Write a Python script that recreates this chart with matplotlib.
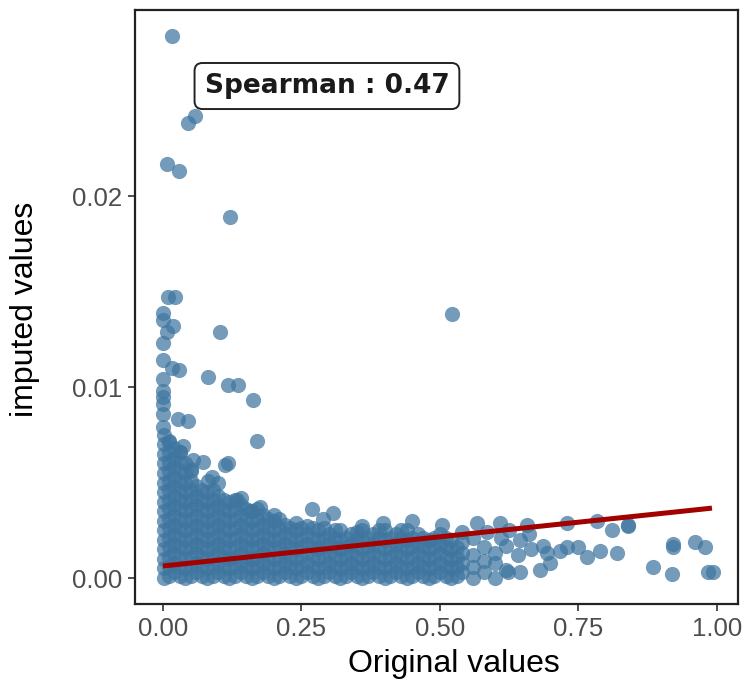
"""原始值 vs 插补值 散点图 + 线性拟合线 + Spearman 标注。"""
import matplotlib
matplotlib.use("Agg")
import matplotlib.pyplot as plt

# --- 数据(从图上读出的点)---
# x ≤ 0.1 紧贴 0 的实心柱
band_left = [
    (0.002, 0.0000), (0.002, 0.0005), (0.002, 0.0010), (0.002, 0.0015), (0.002, 0.0020),
    (0.002, 0.0025), (0.002, 0.0030), (0.002, 0.0035), (0.002, 0.0040), (0.002, 0.0045),
    (0.002, 0.0050), (0.002, 0.0055), (0.002, 0.0060), (0.002, 0.0065), (0.002, 0.0070),
    (0.002, 0.0075),
    (0.020, 0.0003), (0.020, 0.0008), (0.020, 0.0013), (0.020, 0.0018), (0.020, 0.0023),
    (0.020, 0.0028), (0.020, 0.0033), (0.020, 0.0038), (0.020, 0.0043), (0.020, 0.0048),
    (0.020, 0.0053), (0.020, 0.0058), (0.020, 0.0063), (0.020, 0.0068),
    (0.040, 0.0000), (0.040, 0.0005), (0.040, 0.0010), (0.040, 0.0015), (0.040, 0.0020),
    (0.040, 0.0025), (0.040, 0.0030), (0.040, 0.0035), (0.040, 0.0040), (0.040, 0.0045),
    (0.040, 0.0050), (0.040, 0.0055), (0.040, 0.0060),
    (0.060, 0.0003), (0.060, 0.0008), (0.060, 0.0013), (0.060, 0.0018), (0.060, 0.0023),
    (0.060, 0.0028), (0.060, 0.0033), (0.060, 0.0038), (0.060, 0.0043), (0.060, 0.0048),
    (0.080, 0.0000), (0.080, 0.0005), (0.080, 0.0010), (0.080, 0.0015), (0.080, 0.0020),
    (0.080, 0.0025), (0.080, 0.0030), (0.080, 0.0035), (0.080, 0.0040), (0.080, 0.0045),
    (0.100, 0.0003), (0.100, 0.0008), (0.100, 0.0013), (0.100, 0.0018), (0.100, 0.0023),
    (0.100, 0.0028), (0.100, 0.0033), (0.100, 0.0038), (0.100, 0.0043),
]

# 0.12 – 0.30
band_mid = [
    (0.12, 0.0000), (0.12, 0.0005), (0.12, 0.0010), (0.12, 0.0015), (0.12, 0.0020),
    (0.12, 0.0025), (0.12, 0.0030), (0.12, 0.0035), (0.12, 0.0040),
    (0.14, 0.0003), (0.14, 0.0008), (0.14, 0.0013), (0.14, 0.0018), (0.14, 0.0023),
    (0.14, 0.0028), (0.14, 0.0033), (0.14, 0.0038),
    (0.16, 0.0000), (0.16, 0.0005), (0.16, 0.0010), (0.16, 0.0015), (0.16, 0.0020),
    (0.16, 0.0025), (0.16, 0.0030), (0.16, 0.0035),
    (0.18, 0.0003), (0.18, 0.0008), (0.18, 0.0013), (0.18, 0.0018), (0.18, 0.0023),
    (0.18, 0.0028), (0.18, 0.0033),
    (0.20, 0.0000), (0.20, 0.0005), (0.20, 0.0010), (0.20, 0.0015), (0.20, 0.0020),
    (0.20, 0.0025), (0.20, 0.0030),
    (0.22, 0.0003), (0.22, 0.0008), (0.22, 0.0013), (0.22, 0.0018), (0.22, 0.0023),
    (0.22, 0.0028),
    (0.24, 0.0000), (0.24, 0.0005), (0.24, 0.0010), (0.24, 0.0015), (0.24, 0.0020),
    (0.24, 0.0025),
    (0.26, 0.0003), (0.26, 0.0008), (0.26, 0.0013), (0.26, 0.0018), (0.26, 0.0023),
    (0.26, 0.0027),
    (0.28, 0.0000), (0.28, 0.0005), (0.28, 0.0010), (0.28, 0.0015), (0.28, 0.0020),
    (0.28, 0.0025),
    (0.30, 0.0003), (0.30, 0.0008), (0.30, 0.0013), (0.30, 0.0018), (0.30, 0.0023),
]

# 0.32 – 0.50
band_right = [
    (0.32, 0.0000), (0.32, 0.0005), (0.32, 0.0010), (0.32, 0.0015), (0.32, 0.0020), (0.32, 0.0025),
    (0.34, 0.0003), (0.34, 0.0008), (0.34, 0.0013), (0.34, 0.0018), (0.34, 0.0023),
    (0.36, 0.0000), (0.36, 0.0005), (0.36, 0.0010), (0.36, 0.0015), (0.36, 0.0020), (0.36, 0.0025),
    (0.38, 0.0003), (0.38, 0.0008), (0.38, 0.0013), (0.38, 0.0018), (0.38, 0.0023),
    (0.40, 0.0000), (0.40, 0.0005), (0.40, 0.0010), (0.40, 0.0015), (0.40, 0.0020), (0.40, 0.0025),
    (0.42, 0.0003), (0.42, 0.0008), (0.42, 0.0013), (0.42, 0.0018), (0.42, 0.0023),
    (0.44, 0.0000), (0.44, 0.0005), (0.44, 0.0010), (0.44, 0.0015), (0.44, 0.0020), (0.44, 0.0025),
    (0.46, 0.0003), (0.46, 0.0008), (0.46, 0.0013), (0.46, 0.0018), (0.46, 0.0023),
    (0.48, 0.0000), (0.48, 0.0005), (0.48, 0.0010), (0.48, 0.0015), (0.48, 0.0020),
    (0.50, 0.0003), (0.50, 0.0008), (0.50, 0.0013), (0.50, 0.0018), (0.50, 0.0023),
]

# 主体里夹在各列之间的点(让高密度区连成一片)
band_between = [
    (0.01, 0.0001), (0.01, 0.0006), (0.01, 0.0011), (0.01, 0.0016), (0.01, 0.0021),
    (0.01, 0.0026), (0.01, 0.0031), (0.01, 0.0036), (0.01, 0.0041), (0.01, 0.0046),
    (0.01, 0.0051), (0.01, 0.0056), (0.01, 0.0061), (0.01, 0.0066), (0.01, 0.0071),
    (0.03, 0.0001), (0.03, 0.0006), (0.03, 0.0011), (0.03, 0.0016), (0.03, 0.0021),
    (0.03, 0.0026), (0.03, 0.0031), (0.03, 0.0036), (0.03, 0.0041), (0.03, 0.0046),
    (0.03, 0.0051), (0.03, 0.0056), (0.03, 0.0061), (0.03, 0.0066),
    (0.05, 0.0001), (0.05, 0.0006), (0.05, 0.0011), (0.05, 0.0016), (0.05, 0.0021),
    (0.05, 0.0026), (0.05, 0.0031), (0.05, 0.0036), (0.05, 0.0041), (0.05, 0.0046),
    (0.05, 0.0051), (0.05, 0.0056),
    (0.07, 0.0001), (0.07, 0.0006), (0.07, 0.0011), (0.07, 0.0016), (0.07, 0.0021),
    (0.07, 0.0026), (0.07, 0.0031), (0.07, 0.0036), (0.07, 0.0041), (0.07, 0.0046),
    (0.09, 0.0001), (0.09, 0.0006), (0.09, 0.0011), (0.09, 0.0016), (0.09, 0.0021),
    (0.09, 0.0026), (0.09, 0.0031), (0.09, 0.0036), (0.09, 0.0041), (0.09, 0.0046),
    (0.11, 0.0001), (0.11, 0.0006), (0.11, 0.0011), (0.11, 0.0016), (0.11, 0.0021),
    (0.11, 0.0026), (0.11, 0.0031), (0.11, 0.0036), (0.11, 0.0041),
    (0.13, 0.0001), (0.13, 0.0006), (0.13, 0.0011), (0.13, 0.0016), (0.13, 0.0021),
    (0.13, 0.0026), (0.13, 0.0031), (0.13, 0.0036), (0.13, 0.0041),
    (0.15, 0.0001), (0.15, 0.0006), (0.15, 0.0011), (0.15, 0.0016), (0.15, 0.0021),
    (0.15, 0.0026), (0.15, 0.0031), (0.15, 0.0036),
    (0.17, 0.0001), (0.17, 0.0006), (0.17, 0.0011), (0.17, 0.0016), (0.17, 0.0021),
    (0.17, 0.0026), (0.17, 0.0031), (0.17, 0.0036),
    (0.19, 0.0001), (0.19, 0.0006), (0.19, 0.0011), (0.19, 0.0016), (0.19, 0.0021),
    (0.19, 0.0026), (0.19, 0.0031),
    (0.21, 0.0001), (0.21, 0.0006), (0.21, 0.0011), (0.21, 0.0016), (0.21, 0.0021),
    (0.21, 0.0026), (0.21, 0.0031),
    (0.23, 0.0001), (0.23, 0.0006), (0.23, 0.0011), (0.23, 0.0016), (0.23, 0.0021), (0.23, 0.0026),
    (0.25, 0.0001), (0.25, 0.0006), (0.25, 0.0011), (0.25, 0.0016), (0.25, 0.0021), (0.25, 0.0026),
    (0.27, 0.0001), (0.27, 0.0006), (0.27, 0.0011), (0.27, 0.0016), (0.27, 0.0021), (0.27, 0.0026),
    (0.29, 0.0001), (0.29, 0.0006), (0.29, 0.0011), (0.29, 0.0016), (0.29, 0.0021), (0.29, 0.0026),
    (0.31, 0.0001), (0.31, 0.0006), (0.31, 0.0011), (0.31, 0.0016), (0.31, 0.0021), (0.31, 0.0025),
    (0.33, 0.0001), (0.33, 0.0006), (0.33, 0.0011), (0.33, 0.0016), (0.33, 0.0021),
    (0.35, 0.0001), (0.35, 0.0006), (0.35, 0.0011), (0.35, 0.0016), (0.35, 0.0021), (0.35, 0.0024),
    (0.37, 0.0001), (0.37, 0.0006), (0.37, 0.0011), (0.37, 0.0016), (0.37, 0.0021),
    (0.39, 0.0001), (0.39, 0.0006), (0.39, 0.0011), (0.39, 0.0016), (0.39, 0.0021), (0.39, 0.0025),
    (0.41, 0.0001), (0.41, 0.0006), (0.41, 0.0011), (0.41, 0.0016), (0.41, 0.0021),
    (0.43, 0.0001), (0.43, 0.0006), (0.43, 0.0011), (0.43, 0.0016), (0.43, 0.0021), (0.43, 0.0025),
    (0.45, 0.0001), (0.45, 0.0006), (0.45, 0.0011), (0.45, 0.0016), (0.45, 0.0021),
    (0.47, 0.0001), (0.47, 0.0006), (0.47, 0.0011), (0.47, 0.0016), (0.47, 0.0021),
    (0.49, 0.0001), (0.49, 0.0006), (0.49, 0.0011), (0.49, 0.0016), (0.49, 0.0021),
    (0.51, 0.0001), (0.51, 0.0006), (0.51, 0.0011), (0.51, 0.0016), (0.51, 0.0021),
    (0.53, 0.0001), (0.53, 0.0006), (0.53, 0.0011), (0.53, 0.0016),
]

# 包络边缘的凸起点
edge_points = [
    (0.010, 0.0072), (0.030, 0.0066), (0.036, 0.0069), (0.050, 0.0057), (0.054, 0.0062),
    (0.072, 0.0061), (0.081, 0.0051), (0.088, 0.0053), (0.099, 0.0050), (0.112, 0.0059),
    (0.118, 0.0060), (0.133, 0.0041), (0.140, 0.0042), (0.157, 0.0035), (0.175, 0.0037),
    (0.200, 0.0033), (0.240, 0.0029), (0.269, 0.0036), (0.289, 0.0031), (0.307, 0.0034),
    (0.360, 0.0027), (0.397, 0.0029), (0.449, 0.0030), (0.504, 0.0028),
]

# x > 0.5 的稀疏尾部
tail_points = [
    (0.52, 0.0000), (0.52, 0.0005), (0.52, 0.0010), (0.52, 0.0015), (0.52, 0.0020),
    (0.54, 0.0003), (0.54, 0.0008), (0.54, 0.0013), (0.54, 0.0019), (0.54, 0.0024),
    (0.56, 0.0000), (0.56, 0.0006), (0.56, 0.0012), (0.56, 0.0021), (0.567, 0.0029),
    (0.58, 0.0003), (0.58, 0.0009), (0.58, 0.0016), (0.585, 0.0024),
    (0.60, 0.0000), (0.60, 0.0008), (0.60, 0.0013), (0.608, 0.0029), (0.61, 0.0021),
    (0.62, 0.0004), (0.623, 0.0003), (0.62, 0.0017), (0.625, 0.0025),
    (0.644, 0.0003), (0.64, 0.0012), (0.645, 0.0020), (0.657, 0.0028), (0.66, 0.0023),
    (0.665, 0.0015),
    (0.680, 0.0004), (0.686, 0.0017), (0.693, 0.0013), (0.699, 0.0008), (0.717, 0.0014),
    (0.729, 0.0016), (0.729, 0.0029), (0.749, 0.0016), (0.765, 0.0011), (0.783, 0.0030),
    (0.789, 0.0014), (0.810, 0.0025), (0.819, 0.0013), (0.839, 0.0028), (0.839, 0.0027),
    (0.885, 0.0006), (0.919, 0.0002), (0.921, 0.0018), (0.921, 0.0016), (0.960, 0.0019),
    (0.978, 0.0016), (0.984, 0.0003), (0.993, 0.0003),
]

# 高处离群点
outlier_points = [
    (0.016, 0.0284), (0.045, 0.0238), (0.058, 0.0242), (0.007, 0.0217), (0.029, 0.0213),
    (0.121, 0.0189), (0.009, 0.0147), (0.022, 0.0147), (0.000, 0.0139), (0.000, 0.0135),
    (0.018, 0.0132), (0.007, 0.0129), (0.103, 0.0129), (0.000, 0.0123), (0.000, 0.0114),
    (0.016, 0.0110), (0.029, 0.0109), (0.081, 0.0105), (0.000, 0.0104), (0.117, 0.0101),
    (0.135, 0.0101), (0.000, 0.0098), (0.000, 0.0095), (0.000, 0.0091), (0.162, 0.0093),
    (0.027, 0.0083), (0.045, 0.0082), (0.170, 0.0072), (0.000, 0.0079), (0.000, 0.0086),
    (0.522, 0.0138),
]

# 线性拟合线端点
fit_x = [0.0, 0.991]
fit_y = [0.00063, 0.00366]
spearman = 0.47

POINT_COLOR = "#3f76a0"
LINE_COLOR = "#a30000"

pts = (band_left + band_mid + band_right + band_between + edge_points
       + tail_points + outlier_points)
xs = [p[0] for p in pts]
ys = [p[1] for p in pts]

fig = plt.figure(figsize=(7.45, 6.82), dpi=100)
ax = fig.add_axes([135 / 745, 78 / 682, 603 / 745, 594 / 682])

ax.scatter(xs, ys, s=120, color=POINT_COLOR, alpha=0.72, linewidths=0, zorder=2)
ax.plot(fit_x, fit_y, color=LINE_COLOR, lw=3.6, solid_capstyle="butt", zorder=3)

ax.text(0.296, 0.02576, f"Spearman : {spearman:.2f}", ha="center", va="center",
        fontsize=19, fontweight="bold", family="DejaVu Sans", color="#1a1a1a", zorder=4,
        bbox=dict(boxstyle="round,pad=0.38,rounding_size=0.3", fc="white",
                  ec="#222222", lw=1.4))

ax.set_xlim(-0.0505, 1.038)
ax.set_ylim(-0.00136, 0.02974)
ax.set_xticks([0.0, 0.25, 0.5, 0.75, 1.0])
ax.set_xticklabels(["0.00", "0.25", "0.50", "0.75", "1.00"])
ax.set_yticks([0.0, 0.01, 0.02])
ax.set_yticklabels(["0.00", "0.01", "0.02"])
ax.tick_params(length=5, width=1.2, color="#333333", labelcolor="#4d4d4d",
               labelsize=18.5, pad=4)
for lab in ax.get_xticklabels() + ax.get_yticklabels():
    lab.set_family("Liberation Sans")
for sp in ax.spines.values():
    sp.set_color("#222222")
    sp.set_linewidth(1.6)

fig.text(454 / 745, 1 - 672 / 682, "Original values", ha="center", va="baseline",
         fontsize=23, family="Liberation Sans", color="black")
fig.text(33 / 745, 1 - 309 / 682, "imputed values", ha="center", va="baseline",
         rotation=90, rotation_mode="anchor", fontsize=23, family="Liberation Sans",
         color="black")

fig.savefig("out.png", dpi=100)
